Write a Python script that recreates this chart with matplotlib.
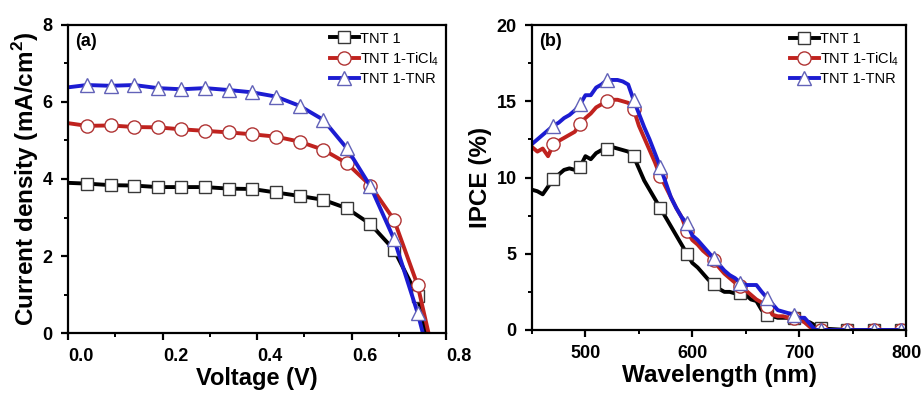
import numpy as np
import matplotlib
matplotlib.use("Agg")
import matplotlib.pyplot as plt
from matplotlib.ticker import MultipleLocator
from matplotlib.transforms import ScaledTranslation

plt.rcParams["font.family"] = ["Liberation Sans", "DejaVu Sans"]
plt.rcParams["mathtext.fontset"] = "custom"
plt.rcParams["mathtext.rm"] = "Liberation Sans"
plt.rcParams["mathtext.bf"] = "Liberation Sans:bold"

labels = ["TNT 1", "TNT 1-TiCl$_4$", "TNT 1-TNR"]

# (a) J-V curves
voltage = [0.0, 0.04, 0.09, 0.14, 0.19, 0.24, 0.29, 0.34, 0.39,
           0.44, 0.49, 0.54, 0.59, 0.64, 0.69, 0.74]
voc = [0.757, 0.763, 0.751]
j_tnt1 = [3.90, 3.88, 3.84, 3.83, 3.79, 3.79, 3.79, 3.75, 3.74,
          3.65, 3.56, 3.46, 3.24, 2.83, 2.16, 0.95]
j_ticl4 = [5.45, 5.38, 5.39, 5.35, 5.34, 5.29, 5.25, 5.21, 5.16,
           5.10, 4.97, 4.76, 4.41, 3.83, 2.94, 1.24]
j_tnr = [6.38, 6.44, 6.42, 6.44, 6.36, 6.33, 6.36, 6.31, 6.25,
         6.14, 5.90, 5.54, 4.80, 3.81, 2.44, 0.52]

# (b) IPCE spectra, 450-720 nm every 5 nm, then flat tail
wavelength = list(range(450, 721, 5)) + [745, 770, 795, 800]
ipce_tnt1 = [9.2, 9.1, 8.9, 9.4, 9.9, 10.2, 10.5, 10.6, 10.5, 10.7,
             11.4, 11.2, 11.6, 11.8, 11.9, 12.0, 11.9, 11.8, 11.7, 11.4,
             10.6, 9.8, 9.2, 8.6, 8.0, 7.4, 6.8, 6.2, 5.6, 5.0,
             4.4, 4.1, 3.7, 3.3, 3.0, 2.7, 2.5, 2.5, 2.4, 2.4,
             2.3, 2.0, 1.9, 1.3, 1.0, 0.9, 0.8, 0.8, 0.8, 0.8,
             0.7, 0.6, 0.5, 0.3, 0.1, 0, 0, 0, 0]
ipce_ticl4 = [12.0, 11.7, 11.9, 11.4, 12.2, 12.4, 12.6, 12.8, 13.0, 13.5,
              13.9, 14.2, 14.6, 14.8, 15.0, 15.1, 15.1, 15.0, 14.9, 14.5,
              13.4, 12.6, 11.8, 11.0, 10.1, 9.4, 8.7, 8.0, 7.4, 6.5,
              5.9, 5.6, 5.2, 4.9, 4.6, 4.1, 3.7, 3.4, 3.1, 2.9,
              2.6, 2.3, 2.0, 1.8, 1.6, 1.0, 0.9, 0.9, 0.8, 0.8,
              0.7, 0.5, 0.2, 0.0, 0.0, 0, 0, 0, 0]
ipce_tnr = [12.2, 12.5, 12.8, 13.1, 13.4, 13.6, 13.9, 14.1, 14.4, 14.8,
            15.4, 15.4, 15.9, 16.1, 16.4, 16.4, 16.4, 16.3, 16.1, 15.1,
            14.2, 13.3, 12.5, 11.6, 10.7, 9.7, 8.7, 8.0, 7.4, 7.0,
            6.2, 5.9, 5.5, 5.1, 4.7, 4.3, 3.9, 3.6, 3.4, 3.1,
            2.95, 2.95, 2.95, 2.5, 2.1, 1.7, 1.3, 1.2, 1.1, 1.0,
            0.8, 0.8, 0.4, 0.0, 0.0, 0, 0, 0, 0]

colors = ["black", "#c0221e", "#1c1cd2"]
edges = ["#383838", "#b03434", "#6262b8"]
markers = ["s", "o", "^"]
msizes = [8.5, 9.5, 10.5]


def style_axes(ax):
    for sp in ax.spines.values():
        sp.set_linewidth(1.6)
    ax.tick_params(which="major", direction="out", length=5, width=1.6,
                   labelsize=13, pad=6)
    ax.tick_params(which="minor", direction="out", length=3, width=1.4)
    for lab in ax.get_xticklabels() + ax.get_yticklabels():
        lab.set_fontweight("bold")


fig = plt.figure(figsize=(9.23, 3.96), dpi=100)

# panel (a)
ax1 = fig.add_axes((0.0737, 0.159, 0.4095, 0.778))
curves_a = [j_tnt1, j_ticl4, j_tnr]
for j, v_oc, c, ec, m, ms, lab in zip(curves_a, voc, colors, edges,
                                        markers, msizes, labels):
    x = voltage + [v_oc]
    y = j + [0.0]
    ax1.plot(x, y, color=c, lw=2.8, marker=m, ms=ms, mfc="white",
             mec=ec, mew=1.0, markevery=list(range(1, len(voltage))),
             label=lab)
ax1.set_xlim(0, 0.8)
ax1.set_ylim(0, 8)
ax1.set_xticks([0.0, 0.2, 0.4, 0.6, 0.8])
ax1.set_yticks([0, 2, 4, 6, 8])
ax1.xaxis.set_minor_locator(MultipleLocator(0.1))
ax1.yaxis.set_minor_locator(MultipleLocator(1))
style_axes(ax1)
shift = ScaledTranslation(13 / 100, 0, fig.dpi_scale_trans)
for lab in ax1.get_xticklabels():
    lab.set_transform(lab.get_transform() + shift)
ax1.set_xlabel("Voltage (V)", fontsize=17, fontweight="bold", labelpad=1)
ax1.set_ylabel("Current density (mA/cm$^{\\mathbf{2}}$)", fontsize=17.5,
               fontweight="bold", labelpad=1)
ax1.text(0.02, 0.975, "(a)", transform=ax1.transAxes, fontsize=13,
         fontweight="bold", va="top", ha="left")
ax1.legend(loc="upper right", frameon=False, fontsize=10.5, handlelength=2.0,
           handletextpad=0.1, labelspacing=0.3, borderaxespad=0.05)

# panel (b)
ax2 = fig.add_axes((0.5764, 0.1667, 0.4052, 0.770))
curves_b = [ipce_tnt1, ipce_ticl4, ipce_tnr]
mark_b = list(range(4, 55, 5)) + [55, 56, 57]
for ip, c, ec, m, ms, lab in zip(curves_b, colors, edges, markers,
                                 msizes, labels):
    ax2.plot(wavelength, ip, color=c, lw=2.8, marker=m, ms=ms, mfc="white",
             mec=ec, mew=1.0, markevery=mark_b, label=lab)
ax2.set_xlim(450, 800)
ax2.set_ylim(0, 20)
ax2.set_xticks([500, 600, 700, 800])
ax2.set_yticks([0, 5, 10, 15, 20])
ax2.xaxis.set_minor_locator(MultipleLocator(50))
ax2.yaxis.set_minor_locator(MultipleLocator(2.5))
style_axes(ax2)
ax2.set_xlabel("Wavelength (nm)", fontsize=17.5, fontweight="bold", labelpad=1)
ax2.set_ylabel("IPCE (%)", fontsize=17.5, fontweight="bold", labelpad=3)
ax2.text(0.02, 0.975, "(b)", transform=ax2.transAxes, fontsize=13,
         fontweight="bold", va="top", ha="left")
ax2.legend(loc="upper right", frameon=False, fontsize=10.5, handlelength=2.0,
           handletextpad=0.1, labelspacing=0.3, borderaxespad=0.05)

fig.savefig("out.png", dpi=100)
